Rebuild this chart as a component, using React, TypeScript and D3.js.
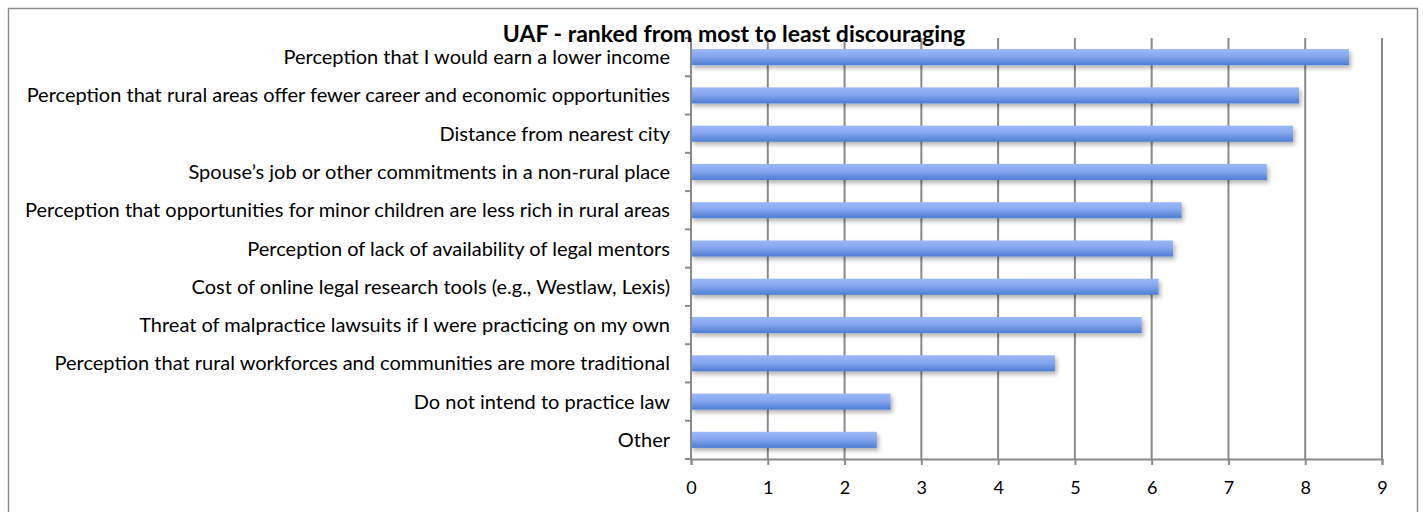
import React, { useEffect, useRef } from 'react';
import * as d3 from 'd3';

const categories = [
  'Perception that I would earn a lower income',
  'Perception that rural areas offer fewer career and economic opportunities',
  'Distance from nearest city',
  'Spouse\u2019s job or other commitments in a non-rural place',
  'Perception that opportunities for minor children are less rich in rural areas',
  'Perception of lack of availability of legal mentors',
  'Cost of online legal research tools (e.g., Westlaw, Lexis)',
  'Threat of malpractice lawsuits if I were practicing on my own',
  'Perception that rural workforces and communities are more traditional',
  'Do not intend to practice law',
  'Other',
];
const values = [8.57, 7.92, 7.84, 7.5, 6.39, 6.28, 6.09, 5.87, 4.74, 2.6, 2.42];
const ticks = [0, 1, 2, 3, 4, 5, 6, 7, 8, 9];
const title = 'UAF - ranked from most to least discouraging';

const W = 1423;
const H = 512;
const margin = { left: 691, right: 41, top: 38, bottom: 53 };
const font = 'Lato, "Open Sans", sans-serif';

export default function App() {
  const ref = useRef<SVGSVGElement>(null);

  useEffect(() => {
    const svg = d3.select(ref.current);
    svg.selectAll('*').remove();

    const x = d3.scaleLinear().domain([0, 9]).range([margin.left, W - margin.right]);
    const y = d3.scaleBand().domain(categories).range([margin.top, H - margin.bottom]).paddingInner(0.58).paddingOuter(0.29);
    const band = d3.scaleBand().domain(categories).range([margin.top, H - margin.bottom]);

    const defs = svg.append('defs');
    const grad = defs.append('linearGradient').attr('id', 'barGrad').attr('x1', 0).attr('y1', 0).attr('x2', 0).attr('y2', 1);
    grad.append('stop').attr('offset', '0%').attr('stop-color', '#9cb8fa');
    grad.append('stop').attr('offset', '45%').attr('stop-color', '#86a6ee');
    grad.append('stop').attr('offset', '100%').attr('stop-color', '#4d7dd4');
    const filt = defs.append('filter').attr('id', 'shadow').attr('x', '-5%').attr('y', '-50%').attr('width', '110%').attr('height', '250%');
    filt.append('feDropShadow').attr('dx', 2).attr('dy', 3).attr('stdDeviation', 2).attr('flood-color', '#000').attr('flood-opacity', 0.3);

    // outer frame
    svg.append('rect').attr('x', 8.5).attr('y', 8.5).attr('width', 1409).attr('height', 520)
      .attr('fill', '#fff').attr('stroke', '#8c8c8c').attr('stroke-width', 1.5);

    // gridlines
    svg.append('g').selectAll('line').data(ticks.slice(1)).join('line')
      .attr('x1', d => x(d)).attr('x2', d => x(d))
      .attr('y1', margin.top).attr('y2', H - margin.bottom)
      .attr('stroke', '#8a8a8a').attr('stroke-width', 2);

    // bars
    svg.append('g').selectAll('rect').data(values).join('rect')
      .attr('x', x(0))
      .attr('y', (d, i) => y(categories[i])!)
      .attr('width', d => x(d) - x(0))
      .attr('height', y.bandwidth())
      .attr('fill', 'url(#barGrad)')
      .attr('filter', 'url(#shadow)');

    // x axis
    const xAxis = svg.append('g').attr('transform', `translate(0,${H - margin.bottom})`)
      .call(d3.axisBottom(x).tickValues(ticks).tickSize(6).tickFormat(d3.format('d')));
    xAxis.select('.domain').attr('stroke', '#8a8a8a').attr('stroke-width', 2);
    xAxis.selectAll('.tick line').attr('stroke', '#8a8a8a').attr('stroke-width', 2);
    xAxis.selectAll('.tick text').attr('font-family', font).attr('font-size', 18).attr('fill', '#000').attr('y', 22).attr('dy', '0.71em');

    // y axis
    const yAxis = svg.append('g').attr('transform', `translate(${margin.left},0)`);
    yAxis.append('line').attr('x1', 0).attr('x2', 0).attr('y1', margin.top).attr('y2', H - margin.bottom)
      .attr('stroke', '#8a8a8a').attr('stroke-width', 2);
    yAxis.selectAll('line.tk').data(categories).join('line').attr('class', 'tk')
      .attr('x1', -6).attr('x2', 0)
      .attr('y1', d => band(d)! + band.bandwidth()).attr('y2', d => band(d)! + band.bandwidth())
      .attr('stroke', '#8a8a8a').attr('stroke-width', 2);
    yAxis.append('line').attr('x1', -6).attr('x2', 0).attr('y1', margin.top).attr('y2', margin.top)
      .attr('stroke', '#8a8a8a').attr('stroke-width', 2);

    svg.append('g').selectAll('text').data(categories).join('text')
      .attr('x', 670)
      .attr('y', d => band(d)! + band.bandwidth() / 2)
      .attr('dy', '0.35em')
      .attr('text-anchor', 'end')
      .attr('font-family', font).attr('font-size', 20).attr('fill', '#000')
      .text(d => d);

    svg.append('text').attr('x', 734).attr('y', 42).attr('text-anchor', 'middle')
      .attr('font-family', font).attr('font-weight', 'bold').attr('font-size', 23).attr('fill', '#000')
      .text(title);
  }, []);

  return <svg ref={ref} width={W} height={H} style={{ position: 'absolute', left: 0, top: 0 }} />;
}
